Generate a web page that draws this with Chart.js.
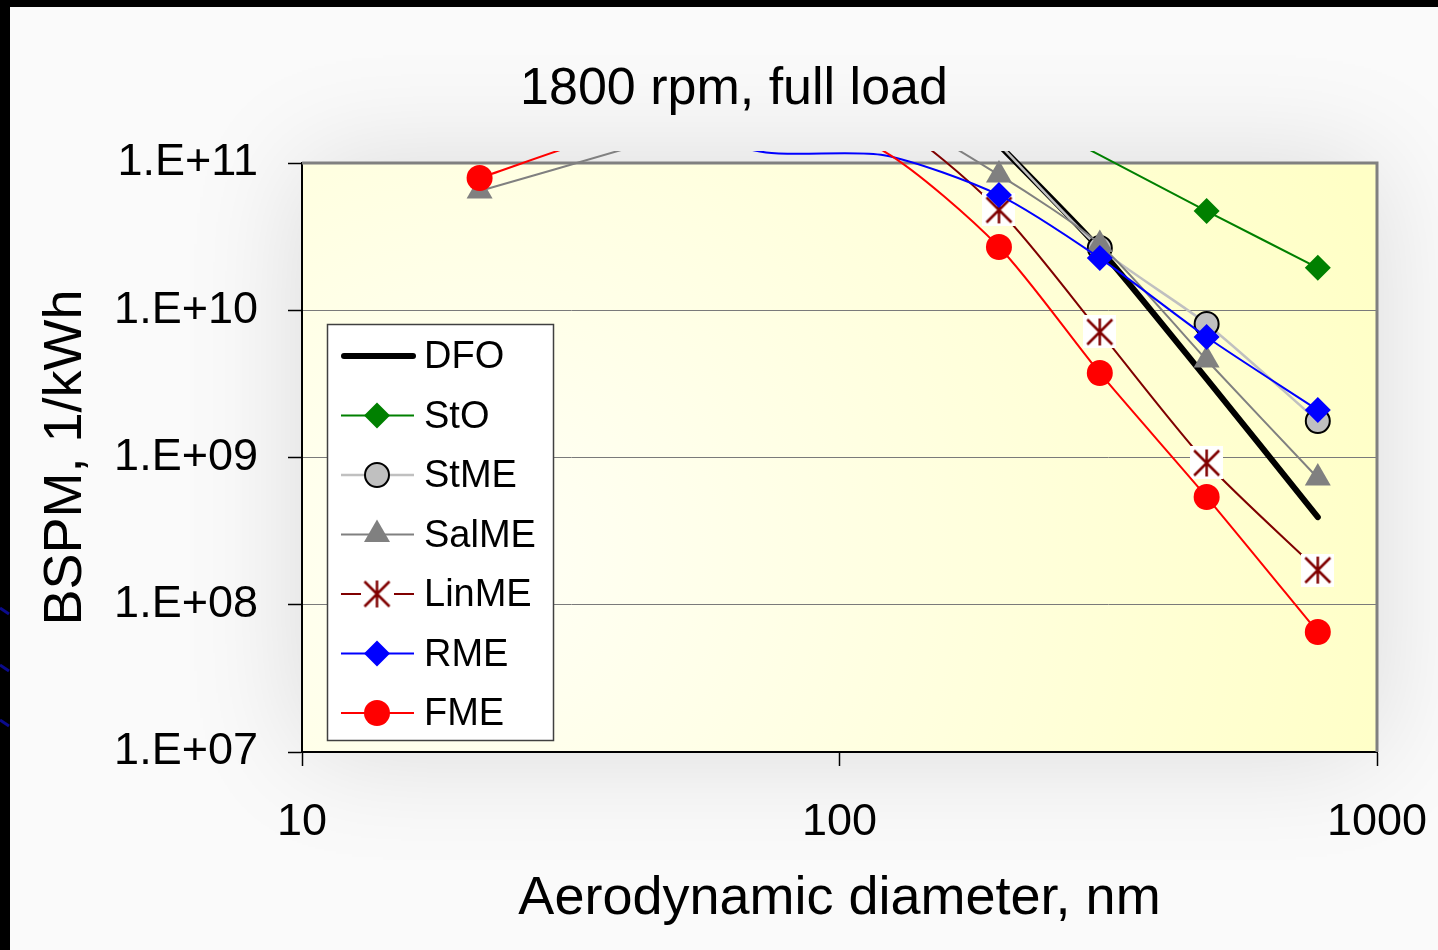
<!DOCTYPE html>
<html>
<head>
<meta charset="utf-8">
<script src="https://cdn.jsdelivr.net/npm/chart.js@4.4.1/dist/chart.umd.min.js"></script>
<style>
    html, body { margin: 0; padding: 0; background: #000; }
    #wrap { width: 1438px; height: 950px; }
</style>
</head>
<body>
<div id="wrap"><canvas id="chart" width="1438" height="950"></canvas></div>
<script>
// particle size, nm (ELPI stages)
const sizes = [21.4, 40, 73, 121, 198, 305, 482, 776];

// BSPM, 1/kWh  (null = no point)
const dfo   = [null, null, null, null, 1.33e11, 2.6e10, 3.42e9, 3.94e8];
const sto   = [null, null, null, null, 2.6e11, 1.13e11, 4.72e10, 1.94e10];
const stme  = [null, null, null, null, 1.35e11, 2.65e10, 8.07e9, 1.77e9];
const salme = [6.45e10, 1.25e11, 2.4e11, 2.2e11, 8.3e10, 2.8e10, 4.59e9, 7.26e8];
const linme = [null, null, 2.6e11, 2.0e11, 4.8e10, 7.12e9, 9.18e8, 1.72e8];
const rme   = [null, 2.0e11, 1.18e11, 1.13e11, 6.06e10, 2.26e10, 6.58e9, 2.10e9];
const fme   = [7.91e10, 1.68e11, 2.2e11, 1.2e11, 2.69e10, 3.75e9, 5.39e8, 6.53e7];

const xTicks = [10, 100, 1000];
const xTickLabels = ['10', '100', '1000'];
const yTicks = [1e7, 1e8, 1e9, 1e10, 1e11];
const yTickLabels = ['1.E+07', '1.E+08', '1.E+09', '1.E+10', '1.E+11'];

const FONT = '"Liberation Sans", Arial, sans-serif';
const Y_MAX = 1e11;

function toPoints(values) {
    return sizes.map((x, i) => ({ x: x, y: values[i] }));
}

// Excel-like star marker with white box behind it
function makeStarMarker() {
    const c = document.createElement('canvas');
    c.width = 33;
    c.height = 33;
    const g = c.getContext('2d');
    g.fillStyle = '#ffffff';
    g.fillRect(0, 0, 33, 33);
    g.strokeStyle = '#800000';
    g.lineWidth = 2.5;
    g.beginPath();
    g.moveTo(4, 4); g.lineTo(29, 29);
    g.moveTo(29, 4); g.lineTo(4, 29);
    g.moveTo(16.5, 3); g.lineTo(16.5, 30);
    g.stroke();
    return c;
}
const starMarker = makeStarMarker();

function hideAbove(r) {
    return ctx => (ctx.raw && ctx.raw.y > Y_MAX) ? 0 : r;
}

const series = [
    { label: 'DFO',   data: dfo,   color: '#000000', width: 6,   style: false,      radius: 0,  fill: '#000000', border: 0 },
    { label: 'StO',   data: sto,   color: '#008000', width: 2,   style: 'rectRot',  radius: 13, fill: '#008000', border: 0 },
    { label: 'StME',  data: stme,  color: '#C0C0C0', width: 2.5, style: 'circle',   radius: 12, fill: '#C0C0C0', border: 2, borderColor: '#000000' },
    { label: 'SalME', data: salme, color: '#808080', width: 2,   style: 'triangle', radius: 15, fill: '#808080', border: 0 },
    { label: 'LinME', data: linme, color: '#800000', width: 2,   style: starMarker, radius: 12, fill: '#800000', border: 0 },
    { label: 'RME',   data: rme,   color: '#0000FF', width: 2,   style: 'rectRot',  radius: 13, fill: '#0000FF', border: 0 },
    { label: 'FME',   data: fme,   color: '#FF0000', width: 2,   style: 'circle',   radius: 13, fill: '#FF0000', border: 0 },
];

const datasets = series.map((s, i) => ({
    label: s.label,
    data: toPoints(s.data),
    borderColor: s.color,
    borderWidth: s.width,
    borderCapStyle: 'round',
    tension: 0.25,
    spanGaps: true,
    pointStyle: s.style,
    pointRadius: hideAbove(s.radius),
    pointBackgroundColor: s.fill,
    pointBorderColor: s.borderColor || s.fill,
    pointBorderWidth: s.border,
    clip: { left: 0, right: 20, top: 12, bottom: 20 },
    order: series.length - i,
}));

const backgroundPlugin = {
    id: 'background',
    beforeDraw(chart) {
        const ctx = chart.ctx;
        const a = chart.chartArea;
        ctx.save();
        ctx.fillStyle = '#000';
        ctx.fillRect(0, 0, chart.width, chart.height);
        // blue streaks in the left frame
        ctx.strokeStyle = '#0b0b8c';
        ctx.lineWidth = 3;
        [608, 665, 720].forEach(y => {
            ctx.beginPath();
            ctx.moveTo(0, y);
            ctx.lineTo(9, y + 6);
            ctx.stroke();
        });
        ctx.beginPath();
        ctx.rect(10, 7, chart.width - 10, chart.height - 7);
        ctx.clip();
        ctx.fillStyle = '#FAFAFA';
        ctx.fillRect(10, 7, chart.width - 10, chart.height - 7);
        ctx.shadowColor = 'rgba(0,0,0,0.13)';
        ctx.shadowBlur = 110;
        ctx.fillStyle = '#F4F4F4';
        ctx.fillRect(a.left, a.top, a.right - a.left, a.bottom - a.top);
        ctx.shadowBlur = 0;
        ctx.shadowColor = 'transparent';
        const grad = ctx.createRadialGradient(480, 560, 0, 480, 560, 950);
        grad.addColorStop(0, '#FFFFF6');
        grad.addColorStop(1, '#FFFFC6');
        ctx.fillStyle = grad;
        ctx.fillRect(a.left, a.top, a.right - a.left, a.bottom - a.top);
        ctx.restore();
    },
    beforeDatasetsDraw(chart) {
        const ctx = chart.ctx;
        const a = chart.chartArea;
        ctx.save();
        ctx.strokeStyle = '#808080';
        ctx.lineWidth = 3;
        ctx.beginPath();
        ctx.moveTo(a.left, a.top);
        ctx.lineTo(a.right, a.top);
        ctx.lineTo(a.right, a.bottom);
        ctx.stroke();
        ctx.restore();
    },
    afterDraw(chart) {
        const ctx = chart.ctx;
        ctx.save();
        ctx.fillStyle = '#000';
        ctx.font = '52px ' + FONT;
        ctx.textAlign = 'center';
        ctx.textBaseline = 'middle';
        ctx.fillText('1800 rpm, full load', 734, 90);

        // legend box
        const bx = 327.5, by = 324.5, bw = 226, bh = 416;
        ctx.fillStyle = '#FFFFFF';
        ctx.fillRect(bx, by, bw, bh);
        ctx.strokeStyle = '#404040';
        ctx.lineWidth = 1.5;
        ctx.strokeRect(bx, by, bw, bh);

        series.forEach((s, i) => {
            const y = 356 + i * 59.5;
            ctx.strokeStyle = s.color;
            ctx.lineWidth = s.width;
            ctx.lineCap = i === 0 ? 'round' : 'butt';
            ctx.beginPath();
            ctx.moveTo(i === 0 ? 344 : 341, y);
            ctx.lineTo(i === 0 ? 413 : 414, y);
            ctx.stroke();
            if (s.style) {
                ctx.fillStyle = s.fill;
                ctx.strokeStyle = s.borderColor || s.fill;
                ctx.lineWidth = s.border;
                Chart.helpers.drawPoint(ctx, {
                    pointStyle: s.style, radius: s.radius, rotation: 0, borderWidth: s.border
                }, 377, y);
            }
            ctx.fillStyle = '#000';
            ctx.font = '38px ' + FONT;
            ctx.textAlign = 'left';
            ctx.textBaseline = 'middle';
            ctx.fillText(s.label, 424, y + 2);
        });
        ctx.restore();
    }
};

new Chart(document.getElementById('chart'), {
    type: 'line',
    data: { datasets: datasets },
    options: {
        responsive: false,
        animation: false,
        events: [],
        layout: { padding: { left: 10, top: 163, right: 61, bottom: 0 } },
        plugins: {
            legend: { display: false },
            title: { display: false },
            tooltip: { enabled: false },
        },
        scales: {
            x: {
                type: 'logarithmic',
                position: 'bottom',
                min: 10,
                max: 1000,
                afterBuildTicks: s => { s.ticks = xTicks.map(v => ({ value: v })); },
                afterFit: s => { s.height = 198; s.paddingLeft = 0; s.paddingRight = 0; },
                ticks: {
                    autoSkip: false,
                    maxRotation: 0,
                    padding: 30,
                    color: '#000',
                    font: { family: FONT, size: 45 },
                    callback: (v, i) => xTickLabels[i],
                },
                grid: { drawOnChartArea: false, tickLength: 14, tickColor: '#000', tickWidth: 1.5 },
                border: { color: '#000', width: 2 },
                title: {
                    display: true,
                    text: 'Aerodynamic diameter, nm',
                    color: '#000',
                    font: { family: FONT, size: 54 },
                    padding: { top: 0, bottom: 18 },
                },
            },
            y: {
                type: 'logarithmic',
                min: 1e7,
                max: 1e11,
                afterBuildTicks: s => { s.ticks = yTicks.map(v => ({ value: v })); },
                afterFit: s => { s.width = 292; },
                ticks: {
                    padding: 30,
                    color: '#000',
                    font: { family: FONT, size: 45 },
                    callback: (v, i) => yTickLabels[i],
                },
                grid: { color: '#7a7a7a', lineWidth: 1, tickLength: 14, tickColor: '#000', tickWidth: 1.5 },
                border: { color: '#000', width: 2 },
                title: {
                    display: true,
                    text: 'BSPM, 1/kWh',
                    color: '#000',
                    font: { family: FONT, size: 54 },
                    padding: { top: 24, bottom: 0 },
                },
            },
        },
    },
    plugins: [backgroundPlugin],
});
</script>
</body>
</html>
